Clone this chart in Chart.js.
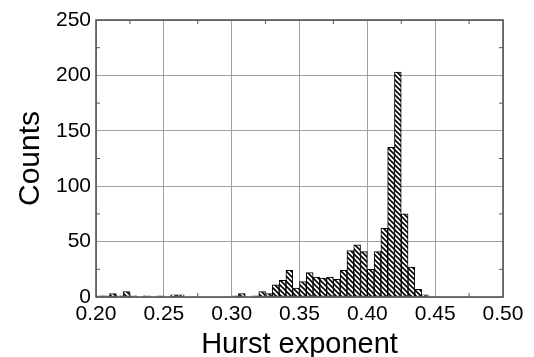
<!DOCTYPE html>
<html>
<head>
<meta charset="utf-8">
<script src="https://cdn.jsdelivr.net/npm/chart.js@4/dist/chart.umd.min.js"></script>
<style>
  html, body { margin: 0; padding: 0; background: #fff; }
  #wrap { width: 534px; height: 357px; }
</style>
</head>
<body>
<div id="wrap"><canvas id="histChart" width="534" height="357"></canvas></div>
<script>
// histogram bins (left edge of each 0.005 bin)
let binStarts = [
  0.200, 0.205, 0.210, 0.215, 0.220, 0.225, 0.230, 0.235, 0.240, 0.245,
  0.250, 0.255, 0.260, 0.265, 0.270, 0.275, 0.280, 0.285, 0.290, 0.295,
  0.300, 0.305, 0.310, 0.315, 0.320, 0.325, 0.330, 0.335, 0.340, 0.345,
  0.350, 0.355, 0.360, 0.365, 0.370, 0.375, 0.380, 0.385, 0.390, 0.395,
  0.400, 0.405, 0.410, 0.415, 0.420, 0.425, 0.430, 0.435, 0.440, 0.445,
  0.450, 0.455, 0.460, 0.465, 0.470, 0.475, 0.480, 0.485, 0.490, 0.495
]
let binWidth = 0.005

let counts = [
  1, 1, 3, 1, 5, 1, 0, 1, 0, 1,
  0, 2, 2, 0, 0, 0, 0, 0, 0, 0,
  1, 3, 0, 1, 5, 3, 11, 15, 24, 8,
  14, 22, 18, 17, 18, 16, 24, 42, 47, 41,
  25, 41, 62, 135, 203, 75, 27, 7, 2, 0,
  0, 0, 0, 0, 0, 0, 0, 0, 0, 0
]

let xTicks = [0.20, 0.25, 0.30, 0.35, 0.40, 0.45, 0.50]
let yTicks = [0, 50, 100, 150, 200, 250]

// diagonal hatch fill
function makeHatch() {
  let p = document.createElement("canvas")
  p.width = 5
  p.height = 5
  let c = p.getContext("2d")
  c.fillStyle = "#fff"
  c.fillRect(0, 0, 5, 5)
  c.strokeStyle = "#000"
  c.lineWidth = 1.6
  c.beginPath()
  for (let o of [-5, 0, 5]) {
    c.moveTo(-1, o - 1)
    c.lineTo(6, o + 6)
  }
  c.stroke()
  return c.createPattern(p, "repeat")
}

// frame box + small inward minor ticks
let framePlugin = {
  id: "frame",
  afterDatasetsDraw(chart) {
    let ctx = chart.ctx
    let a = chart.chartArea
    let xs = chart.scales.x
    let ys = chart.scales.y
    ctx.save()
    ctx.strokeStyle = "#555"
    ctx.lineWidth = 1
    ctx.beginPath()
    for (let i = 0; i < xTicks.length - 1; i++) {
      let px = xs.getPixelForValue((xTicks[i] + xTicks[i + 1]) / 2)
      ctx.moveTo(px, a.bottom)
      ctx.lineTo(px, a.bottom - 4)
      ctx.moveTo(px, a.top)
      ctx.lineTo(px, a.top + 4)
    }
    for (let i = 0; i < yTicks.length - 1; i++) {
      let py = ys.getPixelForValue((yTicks[i] + yTicks[i + 1]) / 2)
      ctx.moveTo(a.left, py)
      ctx.lineTo(a.left + 4, py)
      ctx.moveTo(a.right, py)
      ctx.lineTo(a.right - 4, py)
    }
    ctx.stroke()
    ctx.lineWidth = 1.6
    ctx.strokeRect(a.left, a.top, a.right - a.left, a.bottom - a.top)
    ctx.restore()
  }
}

window.onload = function() {
  let canvas = document.getElementById("histChart")
  let ctx = canvas.getContext("2d")

  let barData = binStarts
    .map((b, i) => ({ x: b + binWidth / 2, y: counts[i] }))
    .filter(p => p.y > 0)

  window.myHist = new Chart(ctx, {
    type: "bar",
    data: {
      datasets: [
        {
          label: "Counts",
          data: barData,
          backgroundColor: makeHatch(),
          borderColor: "#000",
          borderWidth: 1,
          borderSkipped: false,
          categoryPercentage: 1,
          barPercentage: 1
        }
      ]
    },
    options: {
      responsive: false,
      animation: false,
      layout: { padding: { top: 20, right: 31, left: 0, bottom: 0 } },
      plugins: {
        legend: { display: false },
        tooltip: { enabled: false }
      },
      scales: {
        x: {
          type: "linear",
          min: 0.2,
          max: 0.5,
          offset: false,
          afterBuildTicks: s => { s.ticks = xTicks.map(v => ({ value: v })) },
          afterFit: s => { s.height = 60 },
          grid: { color: "#a0a0a0", drawTicks: false, offset: false },
          border: { display: false },
          ticks: {
            padding: 5,
            color: "#000",
            font: { family: "Liberation Sans, Arial, sans-serif", size: 21 },
            callback: v => v.toFixed(2),
            maxRotation: 0
          },
          title: {
            display: true,
            text: "Hurst exponent",
            color: "#000",
            font: { family: "Liberation Sans, Arial, sans-serif", size: 29, lineHeight: 0.8 },
            padding: { top: 0, bottom: 0 }
          }
        },
        y: {
          min: 0,
          max: 250,
          afterBuildTicks: s => { s.ticks = yTicks.map(v => ({ value: v })) },
          afterFit: s => { s.width = 96 },
          grid: { color: "#a0a0a0", drawTicks: false },
          border: { display: false },
          ticks: {
            padding: 5,
            color: "#000",
            font: { family: "Liberation Sans, Arial, sans-serif", size: 21 }
          },
          title: {
            display: true,
            text: "Counts",
            color: "#000",
            font: { family: "Liberation Sans, Arial, sans-serif", size: 30, lineHeight: 1 },
            padding: { top: 16, bottom: 0 }
          }
        }
      }
    },
    plugins: [framePlugin]
  })
}
</script>
</body>
</html>
